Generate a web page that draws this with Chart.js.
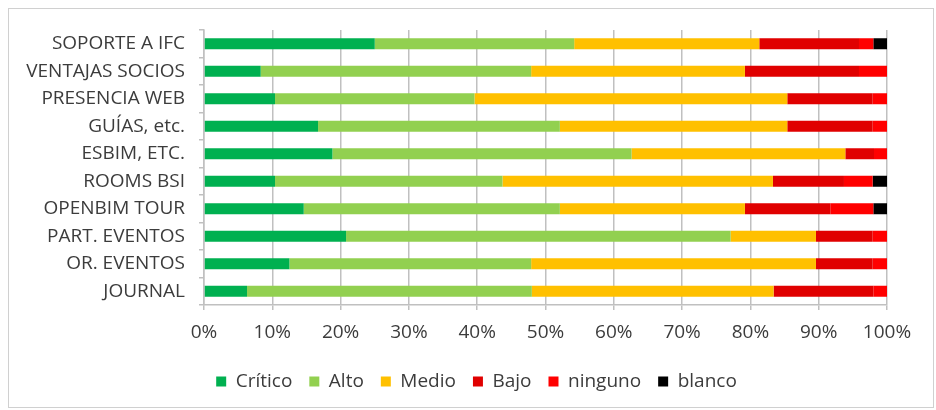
<!DOCTYPE html>
<html>
<head>
<meta charset="utf-8">
<script src="https://cdn.jsdelivr.net/npm/chart.js@4/dist/chart.umd.min.js"></script>
<style>
	body { margin: 0; background: #fff; }
	#frame { position: absolute; left: 8px; top: 8px; width: 926px; height: 400px; border: 1px solid #d0d0d0; box-sizing: border-box; }
	#wrap { position: absolute; left: 0; top: 0; width: 936px; height: 410px; }
</style>
</head>
<body>
<div id="frame"></div>
<div id="wrap"><canvas id="prioChart"></canvas></div>
<script>
// categories, top to bottom
var labels = ['SOPORTE A IFC', 'VENTAJAS SOCIOS', 'PRESENCIA WEB', 'GUÍAS, etc.', 'ESBIM, ETC.',
	'ROOMS BSI', 'OPENBIM TOUR', 'PART. EVENTOS', 'OR. EVENTOS', 'JOURNAL'];

// percent of answers per priority
var critico = [25.0, 8.3, 10.4, 16.7, 18.8, 10.4, 14.6, 20.8, 12.5, 6.3];
var alto    = [29.2, 39.6, 29.2, 35.4, 43.8, 33.3, 37.5, 56.3, 35.4, 41.7];
var medio   = [27.1, 31.3, 45.8, 33.3, 31.3, 39.6, 27.1, 12.5, 41.7, 35.4];
var bajo    = [14.6, 16.7, 12.5, 12.5, 4.2, 10.4, 12.5, 8.3, 8.3, 14.6];
var ninguno = [2.1, 4.2, 2.1, 2.1, 2.1, 4.2, 6.3, 2.1, 2.1, 2.1];
var blanco  = [2.1, 0, 0, 0, 0, 2.1, 2.1, 0, 0, 0];

var xTicks = [0, 10, 20, 30, 40, 50, 60, 70, 80, 90, 100];

var textColor = '#3c3c3c';
var gridColor = '#c0c0c0';
var font = { family: "'Open Sans', sans-serif", size: 19 };

function ds(_label, _color, _data) {
	return {
		label: _label,
		data: _data,
		backgroundColor: _color,
		borderWidth: 0,
		barPercentage: 0.4,
		categoryPercentage: 1.0
	};
}

// nudge the legend to the right, like the original
var legendShift = {
	id: 'legendShift',
	afterLayout: function(chart) {
		chart.legend.left += 33;
		chart.legend.right += 33;
	}
};

var ctx = document.getElementById('prioChart').getContext('2d');

var config = {
	type: 'bar',
	data: {
		labels: labels,
		datasets: [
			ds('Crítico', '#00b050', critico),
			ds('Alto', '#92d050', alto),
			ds('Medio', '#ffc000', medio),
			ds('Bajo', '#e00000', bajo),
			ds('ninguno', '#ff0000', ninguno),
			ds('blanco', '#000000', blanco)
		]
	},
	options: {
		indexAxis: 'y',
		responsive: true,
		maintainAspectRatio: false,
		animation: false,
		layout: { padding: { top: 30, right: 49, bottom: 9, left: 0 } },
		scales: {
			x: {
				stacked: true,
				min: 0,
				max: 100,
				afterBuildTicks: function(scale) {
					scale.ticks = xTicks.map(function(v) { return { value: v }; });
				},
				afterFit: function(scale) { scale.height = 50; },
				ticks: {
					color: textColor,
					font: font,
					padding: 11,
					maxRotation: 0,
					callback: function(v) { return v + '%'; }
				},
				grid: { color: gridColor, lineWidth: 1.5, tickLength: 5 },
				border: { color: gridColor, width: 1.5 }
			},
			y: {
				stacked: true,
				afterFit: function(scale) { scale.width = 204; },
				ticks: { color: textColor, font: font, padding: 14 },
				grid: { drawOnChartArea: false, color: gridColor, lineWidth: 1.5, tickLength: 5 },
				border: { color: gridColor, width: 1.5 }
			}
		},
		plugins: {
			legend: {
				position: 'bottom',
				labels: {
					color: textColor,
					font: font,
					boxWidth: 10,
					boxHeight: 10,
					padding: 17
				}
			},
			tooltip: { enabled: false }
		}
	},
	plugins: [legendShift]
};
var chart = new Chart(ctx, config);
</script>
</body>
</html>
